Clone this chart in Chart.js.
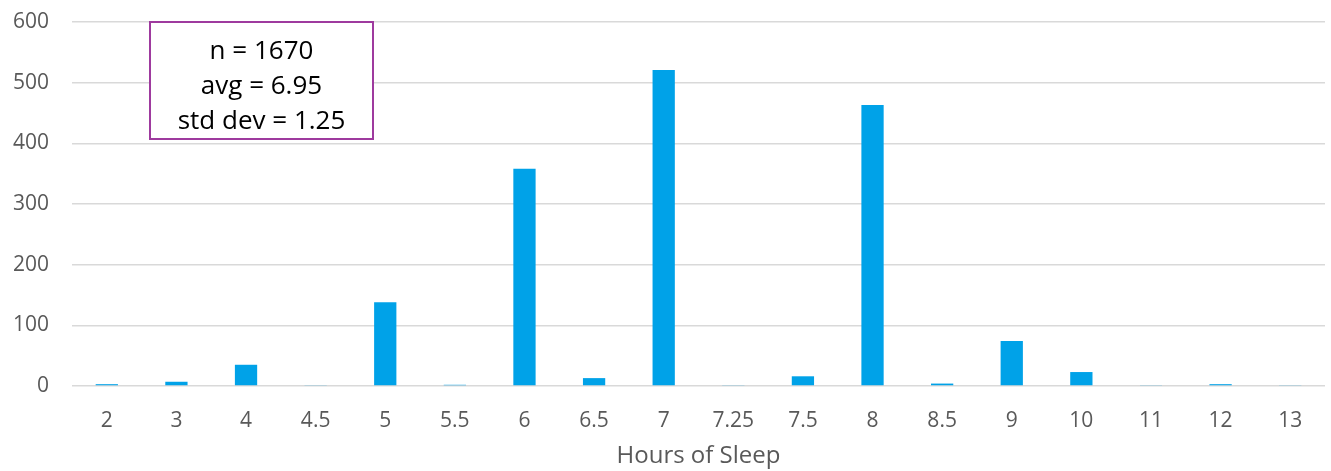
<!DOCTYPE html>
<html>
<head>
<meta charset="utf-8">
<script src="https://cdn.jsdelivr.net/npm/chart.js@4/dist/chart.umd.min.js"></script>
<style>
  html, body { margin: 0; padding: 0; background: #ffffff; }
  #wrap { width: 1331px; height: 471px; position: relative; }
</style>
</head>
<body>
<div id="wrap"><canvas id="c"></canvas></div>
<script>
const categories = ["2", "3", "4", "4.5", "5", "5.5", "6", "6.5", "7", "7.25", "7.5", "8", "8.5", "9", "10", "11", "12", "13"];
const counts = [3, 7, 35, 1, 138, 2, 358, 13, 521, 1, 16, 463, 4, 74, 23, 1, 3, 1];
const yTicks = [0, 100, 200, 300, 400, 500, 600];
const statLines = ["n = 1670", "avg = 6.95", "std dev = 1.25"];
const xTitle = "Hours of Sleep";

const statBox = {
  id: 'statBox',
  afterDraw(chart) {
    const ctx = chart.ctx;
    const area = chart.chartArea;
    const left = area.left + 78, top = area.top, w = 223, h = 117;
    ctx.save();
    ctx.fillStyle = '#ffffff';
    ctx.fillRect(left, top, w, h);
    ctx.strokeStyle = '#9E3A9E';
    ctx.lineWidth = 2;
    ctx.strokeRect(left, top, w, h);
    ctx.fillStyle = '#000000';
    ctx.font = '26px "Open Sans", sans-serif';
    ctx.textAlign = 'center';
    ctx.textBaseline = 'middle';
    statLines.forEach((t, i) => ctx.fillText(t, left + w / 2, top + 30 + i * 35));
    ctx.restore();
  }
};

new Chart(document.getElementById('c'), {
  type: 'bar',
  data: {
    labels: categories,
    datasets: [{
      data: counts,
      backgroundColor: '#00A2E8',
      borderWidth: 0,
      barPercentage: 0.32,
      categoryPercentage: 1.0
    }]
  },
  options: {
    responsive: true,
    maintainAspectRatio: false,
    animation: false,
    layout: { padding: { left: 0, right: 6, top: 22, bottom: 0 } },
    plugins: { legend: { display: false }, tooltip: { enabled: false } },
    scales: {
      x: {
        afterFit(axis) { axis.height = 85; },
        grid: { display: false },
        border: { display: false },
        ticks: { color: '#595959', font: { size: 21, family: '"Open Sans", sans-serif' }, padding: 14 },
        title: { display: true, text: xTitle, color: '#595959', font: { size: 24, family: '"Open Sans", sans-serif' }, padding: { top: 0, bottom: 0 } }
      },
      y: {
        afterFit(axis) { axis.width = 72; axis.paddingTop = 0; axis.paddingBottom = 0; },
        min: 0, max: 600,
        afterBuildTicks(axis) { axis.ticks = yTicks.map(v => ({ value: v })); },
        grid: { color: '#D9D9D9', lineWidth: 1.5, drawTicks: false },
        border: { display: false },
        ticks: { color: '#595959', font: { size: 21, family: '"Open Sans", sans-serif' }, padding: 23 }
      }
    }
  },
  plugins: [statBox]
});
</script>
</body>
</html>
